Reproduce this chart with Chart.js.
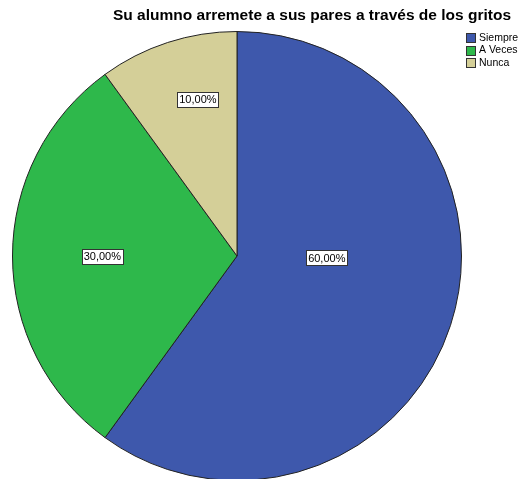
<!DOCTYPE html>
<html>
<head>
<meta charset="utf-8">
<script src="https://cdn.jsdelivr.net/npm/chart.js@4/dist/chart.umd.min.js"></script>
<style>
    html, body { margin: 0; padding: 0; background: #fff; overflow: hidden; }
    #wrap { width: 520px; height: 490px; }
</style>
</head>
<body>
<div id="wrap"><canvas id="chart"></canvas></div>
<script>
var categories = ["Siempre", "A Veces", "Nunca"]
var percents = [60, 30, 10]
var sliceColors = ["#3e58ac", "#2eb84b", "#d4cf98"]
var chartTitle = "Su alumno arremete a sus pares a través de los gritos"

// where each box label sits: angle from top (deg, clockwise) and share of the radius
var labelSpots = [{ a: 91, f: 0.40 }, { a: 270, f: 0.60 }, { a: 346, f: 0.72 }]

var decor = {
    id: 'decor',
    afterDatasetsDraw(chart) {
        var ctx = chart.ctx
        var arcs = chart.getDatasetMeta(0).data
        ctx.save()
        ctx.font = '11px Arial, "Liberation Sans", sans-serif'
        ctx.textBaseline = 'middle'
        ctx.textAlign = 'center'
        arcs.forEach((arc, i) => {
            var r = arc.outerRadius * labelSpots[i].f
            var ang = labelSpots[i].a * Math.PI / 180
            var x = arc.x + Math.sin(ang) * r
            var y = arc.y - Math.cos(ang) * r
            var txt = percents[i].toFixed(2).replace('.', ',') + '%'
            var w = ctx.measureText(txt).width + 4
            var h = 15
            ctx.fillStyle = '#fff'
            ctx.fillRect(Math.round(x - w / 2) + 0.5, Math.round(y - h / 2) + 0.5, Math.round(w), h)
            ctx.strokeStyle = '#333'
            ctx.lineWidth = 1
            ctx.strokeRect(Math.round(x - w / 2) + 0.5, Math.round(y - h / 2) + 0.5, Math.round(w), h)
            ctx.fillStyle = '#000'
            ctx.fillText(txt, x, y + 1)
        })

        // title
        ctx.font = 'bold 15.5px Arial, "Liberation Sans", sans-serif'
        ctx.fillStyle = '#000'
        ctx.fillText(chartTitle, 312, 16)

        // legend
        ctx.font = '10.5px Arial, "Liberation Sans", sans-serif'
        ctx.textAlign = 'left'
        categories.forEach((c, i) => {
            var y = 33 + i * 12.5
            ctx.fillStyle = sliceColors[i]
            ctx.fillRect(466.5, Math.round(y) + 0.5, 9, 9)
            ctx.strokeStyle = '#333'
            ctx.strokeRect(466.5, Math.round(y) + 0.5, 9, 9)
            ctx.fillStyle = '#000'
            ctx.fillText(c, 479, y + 5)
        })
        ctx.restore()
    }
}

new Chart(document.getElementById('chart').getContext('2d'), {
    type: 'pie',
    data: {
        labels: categories,
        datasets: [{
            data: percents,
            backgroundColor: sliceColors,
            borderColor: '#222',
            borderWidth: 1
        }]
    },
    options: {
        responsive: true,
        maintainAspectRatio: false,
        animation: false,
        layout: { padding: { left: 12, right: 58, top: 31, bottom: 9 } },
        plugins: {
            legend: { display: false },
            tooltip: { enabled: false }
        }
    },
    plugins: [decor]
})
</script>
</body>
</html>
